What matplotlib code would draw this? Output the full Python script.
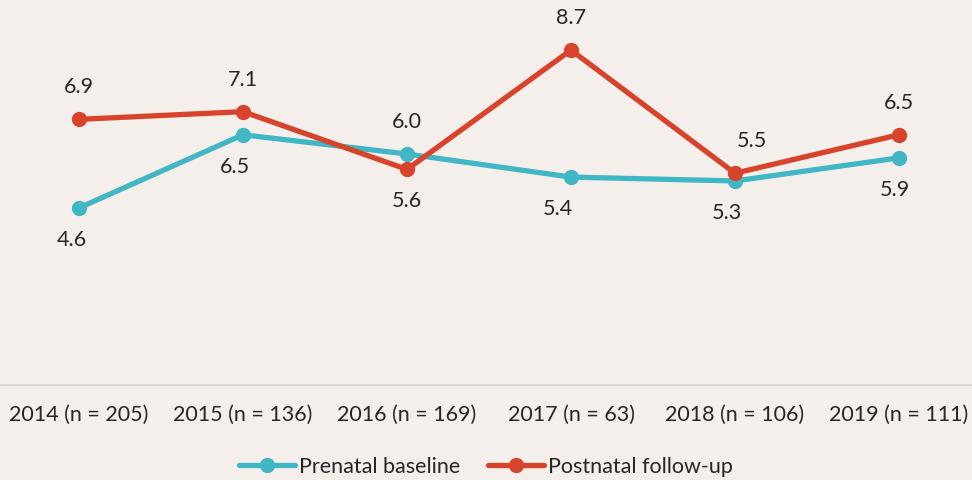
import matplotlib.pyplot as plt

plt.rcParams['font.family'] = ['Lato', 'DejaVu Sans']

# chart values
years = ['2014 (n = 205)', '2015 (n = 136)', '2016 (n = 169)',
         '2017 (n = 63)', '2018 (n = 106)', '2019 (n = 111)']
prenatal = [4.6, 6.5, 6.0, 5.4, 5.3, 5.9]
postnatal = [6.9, 7.1, 5.6, 8.7, 5.5, 6.5]

# label placement (pixel offsets, Excel style)
pre_dy = [-32, -32, 32, -32, -32, -32]
pre_dx = [-7, -8, 0, -13, -8, -4]
post_dy = [32, 32, -32, 32, 32, 32]
post_dx = [0, 0, 0, 0, 17, 0]

bg = '#f5efeb'
teal = '#41b6c4'
red = '#d8432b'
txt = '#262626'
fs = 15.5

fig = plt.figure(figsize=(9.72, 4.8), dpi=100, facecolor=bg)
ax = fig.add_axes([0, 1 - 385 / 480, 1, 385 / 480])
ax.set_facecolor(bg)

x = list(range(len(years)))
ax.plot(x, prenatal, color=teal, lw=3.8, marker='o', ms=10, label='Prenatal baseline',
        solid_capstyle='round')
ax.plot(x, postnatal, color=red, lw=3.8, marker='o', ms=10, label='Postnatal follow-up',
        solid_capstyle='round')

for i, v in enumerate(prenatal):
    ax.annotate(f'{v:.1f}', (i, v), xytext=(pre_dx[i] * 0.72, pre_dy[i] * 0.72),
                textcoords='offset points', ha='center', va='center',
                fontsize=fs, color=txt)
for i, v in enumerate(postnatal):
    ax.annotate(f'{v:.1f}', (i, v), xytext=(post_dx[i] * 0.72, post_dy[i] * 0.72),
                textcoords='offset points', ha='center', va='center',
                fontsize=fs, color=txt)

ax.set_xlim(-79 / 164, (972 - 79) / 164)
ax.set_ylim(0, 10)
ax.set_yticks([])
ax.set_xticks(x)
ax.set_xticklabels(years, fontsize=fs, color=txt)
ax.tick_params(axis='x', length=0, pad=14)
for s in ['top', 'left', 'right']:
    ax.spines[s].set_visible(False)
ax.spines['bottom'].set_color('#d9d9d9')
ax.spines['bottom'].set_linewidth(1.5)

fig.legend(loc='center', bbox_to_anchor=(0.5, 1 - 467 / 480), ncol=2, frameon=False,
           fontsize=fs, handlelength=2.6, handletextpad=0.2, columnspacing=1.3,
           labelcolor=txt)

fig.savefig('out.png', dpi=100, facecolor=bg)
